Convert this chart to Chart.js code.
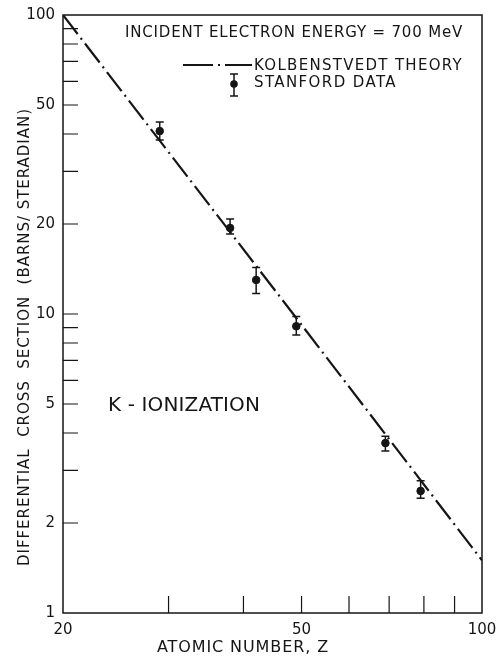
<!DOCTYPE html>
<html lang="en">
<head>
<meta charset="UTF-8">
<title>K-Ionization cross section</title>
<script src="https://cdn.jsdelivr.net/npm/chart.js"></script>
<style>
  body { margin: 0; background: #fff; }
</style>
</head>
<body>
<canvas id="ctx" width="497" height="656"></canvas>
<script>
// Stanford data (atomic number Z, cross section with error bar ends)
const zData = [29, 38, 42, 49, 69, 79];
const sigma = [40.9, 19.4, 13.0, 9.1, 3.7, 2.56];
const sigmaHi = [43.9, 20.8, 14.3, 9.8, 3.9, 2.77];
const sigmaLo = [38.2, 18.5, 11.7, 8.5, 3.48, 2.42];

// Kolbenstvedt theory
const zTheory = [20, 50, 100];
const sigmaTheory = [100, 9.2, 1.5];

// axes
const xTicks = [20, 30, 40, 50, 60, 70, 80, 90, 100];
const xTickLabels = [20, 50, 100];
const yTicks = [1, 2, 3, 4, 5, 6, 7, 8, 9, 10, 20, 30, 40, 50, 60, 70, 80, 90, 100];
const yTickLabels = [1, 2, 5, 10, 20, 50, 100];

const ink = '#151515';
const fam = '"DejaVu Sans", sans-serif';

// draw text stretched to a given width with letter spacing
function fitText(c, text, x, y, width, size) {
  c.font = size + 'px ' + fam;
  c.letterSpacing = '0px';
  const w0 = c.measureText(text).width;
  c.letterSpacing = ((width - w0) / text.length) + 'px';
  c.textAlign = 'left';
  c.textBaseline = 'middle';
  c.fillText(text, x, y);
  c.letterSpacing = '0px';
}

const decor = {
  id: 'decor',
  afterDatasetsDraw(chart) {
    const c = chart.ctx;
    const a = chart.chartArea;
    const xs = chart.scales.x, ys = chart.scales.y;
    c.save();
    c.strokeStyle = ink;
    c.fillStyle = ink;

    // error bars
    c.lineWidth = 1.5;
    zData.forEach((z, i) => {
      const px = xs.getPixelForValue(z);
      const top = ys.getPixelForValue(sigmaHi[i]);
      const bot = ys.getPixelForValue(sigmaLo[i]);
      c.beginPath();
      c.moveTo(px, top); c.lineTo(px, bot);
      c.moveTo(px - 4, top); c.lineTo(px + 4, top);
      c.moveTo(px - 4, bot); c.lineTo(px + 4, bot);
      c.stroke();
    });

    // frame
    c.lineWidth = 1.5;
    c.strokeRect(a.left, a.top, a.right - a.left, a.bottom - a.top);

    // inward ticks
    c.lineWidth = 1.2;
    c.beginPath();
    xTicks.slice(1, -1).forEach(v => {
      const px = xs.getPixelForValue(v);
      c.moveTo(px, a.bottom); c.lineTo(px, a.bottom - 17);
    });
    yTicks.slice(1, -1).forEach(v => {
      const py = ys.getPixelForValue(v);
      c.moveTo(a.left, py); c.lineTo(a.left + 15, py);
    });
    c.stroke();
    c.restore();
  },
  afterDraw(chart) {
    const c = chart.ctx;
    c.save();
    c.fillStyle = ink;
    c.strokeStyle = ink;

    fitText(c, 'INCIDENT ELECTRON ENERGY = 700 MeV', 125, 33, 338, 15);
    fitText(c, 'KOLBENSTVEDT THEORY', 254, 66, 209, 15);
    fitText(c, 'STANFORD DATA', 254, 83, 143, 15);
    fitText(c, 'K - IONIZATION', 108, 406, 152, 20);
    fitText(c, 'ATOMIC NUMBER, Z', 157, 648, 172, 16);

    // legend samples
    c.lineWidth = 2.2;
    c.setLineDash([30, 5, 2, 5]);
    c.beginPath();
    c.moveTo(183, 65); c.lineTo(252, 65);
    c.stroke();
    c.setLineDash([]);
    c.lineWidth = 1.5;
    c.beginPath();
    c.moveTo(234, 74); c.lineTo(234, 96);
    c.moveTo(230, 74); c.lineTo(238, 74);
    c.moveTo(230, 96); c.lineTo(238, 96);
    c.stroke();
    c.beginPath();
    c.arc(234, 84, 3.8, 0, Math.PI * 2);
    c.fill();

    // y axis title
    c.translate(25, 566);
    c.rotate(-Math.PI / 2);
    fitText(c, 'DIFFERENTIAL  CROSS  SECTION  (BARNS/ STERADIAN)', 0, 0, 458, 15);
    c.restore();
  }
};

new Chart(document.getElementById('ctx'), {
  type: 'scatter',
  data: {
    datasets: [{
      label: 'KOLBENSTVEDT THEORY',
      data: zTheory.map((z, i) => ({ x: z, y: sigmaTheory[i] })),
      showLine: true,
      borderColor: ink,
      borderWidth: 2.2,
      borderDash: [24, 5, 2, 5],
      pointRadius: 0,
      fill: false,
      tension: 0
    }, {
      label: 'STANFORD DATA',
      data: zData.map((z, i) => ({ x: z, y: sigma[i] })),
      pointRadius: 3.8,
      backgroundColor: ink,
      borderColor: ink
    }]
  },
  options: {
    responsive: false,
    animation: false,
    layout: { padding: { top: 15, right: 15, left: 0, bottom: 0 } },
    plugins: { legend: { display: false }, tooltip: { enabled: false } },
    scales: {
      x: {
        type: 'logarithmic',
        min: 20,
        max: 100,
        afterBuildTicks: s => { s.ticks = xTicks.map(v => ({ value: v })); },
        afterFit: s => { s.height = 43; s.paddingLeft = 0; s.paddingRight = 0; },
        grid: { display: false, drawTicks: false },
        border: { display: false },
        ticks: {
          autoSkip: false,
          maxRotation: 0,
          padding: 8,
          color: ink,
          font: { family: fam, size: 15 },
          callback: v => xTickLabels.includes(v) ? String(v) : ''
        }
      },
      y: {
        type: 'logarithmic',
        min: 1,
        max: 100,
        afterBuildTicks: s => { s.ticks = yTicks.map(v => ({ value: v })); },
        afterFit: s => { s.width = 63; s.paddingTop = 0; s.paddingBottom = 0; },
        grid: { display: false, drawTicks: false },
        border: { display: false },
        ticks: {
          autoSkip: false,
          padding: 8,
          color: ink,
          font: { family: fam, size: 15 },
          callback: v => yTickLabels.includes(v) ? String(v) : ''
        }
      }
    }
  },
  plugins: [decor]
});
</script>
</body>
</html>
